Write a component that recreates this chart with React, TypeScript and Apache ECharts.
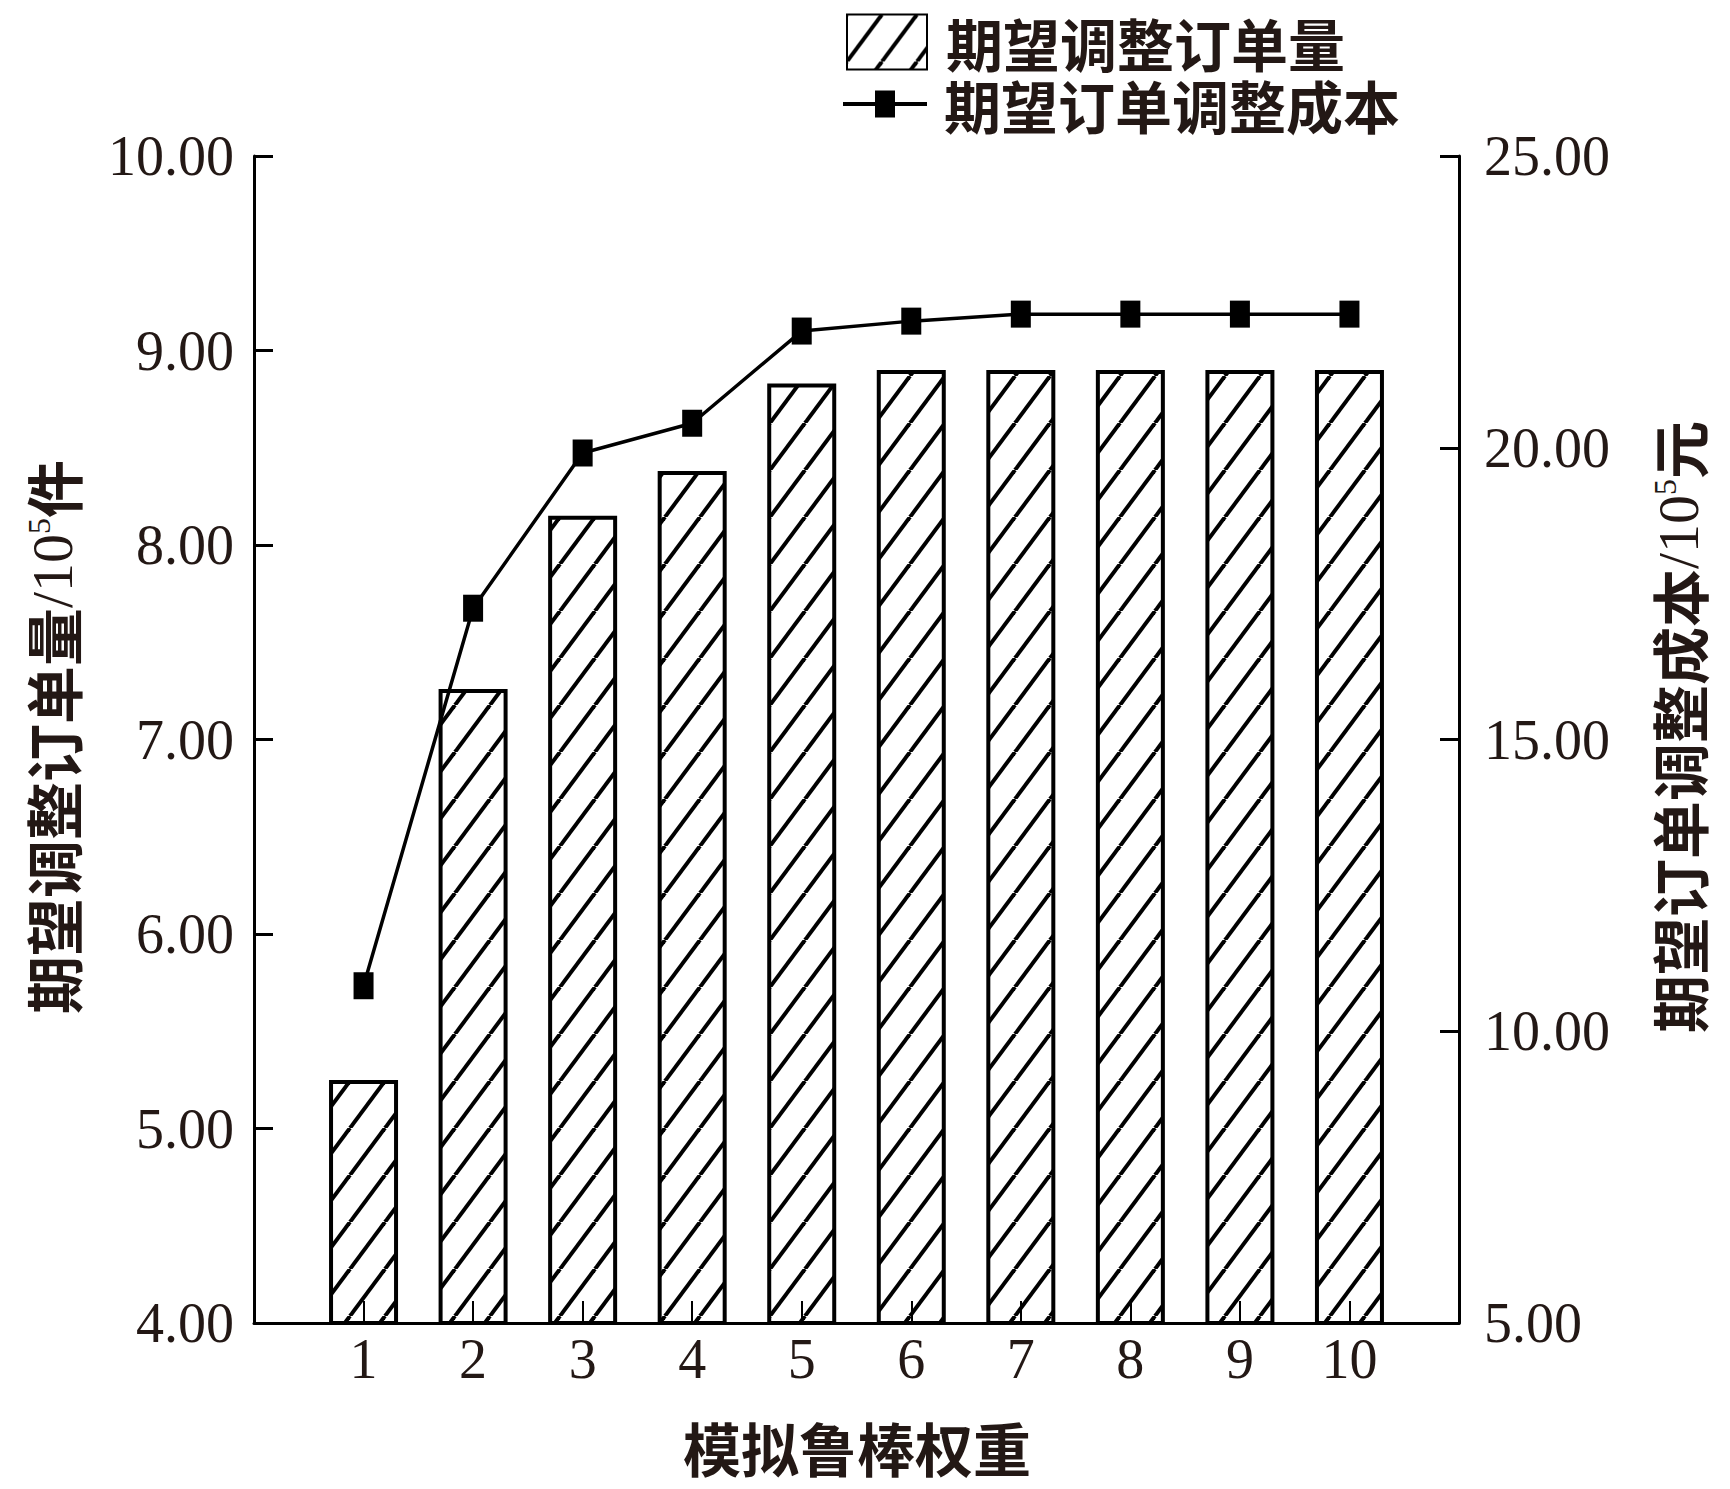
import React, { useEffect, useRef } from 'react';
import * as echarts from 'echarts';

// ---- data ----
const categories = [1, 2, 3, 4, 5, 6, 7, 8, 9, 10];
const orderQty = [5.25, 7.26, 8.15, 8.38, 8.83, 8.9, 8.9, 8.9, 8.9, 8.9];
const adjustCost = [10.78, 17.25, 19.91, 20.42, 22.0, 22.17, 22.29, 22.29, 22.29, 22.29];
const leftAxis = { min: 4, max: 10, interval: 1 };
const rightAxis = { min: 5, max: 25, interval: 5 };
const xAxisRange = { min: 0, max: 11, interval: 1 };
const barName = '期望调整订单量';
const lineName = '期望订单调整成本';
const xName = '模拟鲁棒权重';

const TEXT = '#231815';
const CJK = "'Noto Sans CJK SC'";
const SERIF = "'Liberation Serif', 'Times New Roman', serif";

function makeHatch(): HTMLCanvasElement {
  const W = 35, H = 47;
  const c = document.createElement('canvas');
  c.width = W;
  c.height = H;
  const ctx = c.getContext('2d')!;
  ctx.strokeStyle = '#000';
  ctx.lineWidth = 4;
  for (const off of [-W, 0, W]) {
    ctx.beginPath();
    ctx.moveTo(off, H);
    ctx.lineTo(off + W, 0);
    ctx.stroke();
  }
  return c;
}

export default function App() {
  const ref = useRef<HTMLDivElement>(null);
  useEffect(() => {
    if (!ref.current) return;
    const chart = echarts.init(ref.current, null, { renderer: 'svg' });
    const hatch = { image: makeHatch(), repeat: 'repeat' } as any;

    const labelStyle = { fontFamily: SERIF, fontSize: 56, color: TEXT };
    const richName = {
      a: { fontFamily: CJK, fontSize: 58, fontWeight: 'bold', fill: TEXT },
      b: { fontFamily: SERIF, fontSize: 58, fill: TEXT },
      c: { fontFamily: SERIF, fontSize: 32, fill: TEXT, verticalAlign: 'top' },
    };
    const legendText = {
      fontFamily: CJK,
      fontSize: 57,
      fontWeight: 'bold',
      color: TEXT,
      lineHeight: 58,
    };

    chart.setOption({
      animation: false,
      backgroundColor: '#fff',
      grid: { left: 254, right: 271, top: 156, bottom: 166, containLabel: false },
      legend: [
        {
          data: [{ name: barName, icon: 'rect' }],
          left: 841,
          top: 8,
          itemWidth: 80,
          itemHeight: 55,
          selectedMode: false,
          textStyle: { ...legendText, padding: [0, 0, 0, 14] },
        },
        {
          data: [{ name: lineName, icon: 'path://M0,11.5L84,11.5L84,15.5L0,15.5Z M32,0L52,0L52,27L32,27Z' }],
          left: 838,
          top: 70,
          itemWidth: 84,
          itemHeight: 27,
          selectedMode: false,
          textStyle: { ...legendText, padding: [0, 0, 0, 12] },
        },
      ],
      xAxis: {
        type: 'value',
        min: xAxisRange.min,
        max: xAxisRange.max,
        interval: xAxisRange.interval,
        axisLine: { show: true, onZero: false, lineStyle: { color: '#000', width: 3 } },
        axisTick: { show: true, inside: true, length: 22, lineStyle: { color: '#000', width: 2 } },
        axisLabel: {
          ...labelStyle,
          margin: 8,
          formatter: (v: number) => (categories.includes(v) ? String(v) : ''),
        },
        splitLine: { show: false },
      },
      yAxis: [
        {
          type: 'value',
          position: 'left',
          min: leftAxis.min,
          max: leftAxis.max,
          interval: leftAxis.interval,
          axisLine: { show: true, onZero: false, lineStyle: { color: '#000', width: 3 } },
          axisTick: { show: true, inside: true, length: 19, lineStyle: { color: '#000', width: 3 } },
          axisLabel: { ...labelStyle, margin: 20, formatter: (v: number) => v.toFixed(2) },
          splitLine: { show: false },
        },
        {
          type: 'value',
          position: 'right',
          min: rightAxis.min,
          max: rightAxis.max,
          interval: rightAxis.interval,
          axisLine: { show: true, onZero: false, lineStyle: { color: '#000', width: 3 } },
          axisTick: { show: true, inside: true, length: 19, lineStyle: { color: '#000', width: 3 } },
          axisLabel: { ...labelStyle, margin: 25, formatter: (v: number) => v.toFixed(2) },
          splitLine: { show: false },
        },
      ],
      series: [
        {
          name: barName,
          type: 'bar',
          xAxisIndex: 0,
          yAxisIndex: 0,
          barWidth: 69,
          data: orderQty.map((v, i) => [categories[i], v]),
          itemStyle: { color: hatch, borderColor: '#000', borderWidth: 4 },
          z: 2,
        },
        {
          name: lineName,
          type: 'line',
          xAxisIndex: 0,
          yAxisIndex: 1,
          data: adjustCost.map((v, i) => [categories[i], v]),
          symbol: 'rect',
          symbolSize: [20, 27],
          lineStyle: { color: '#000', width: 3.5 },
          itemStyle: { color: '#000' },
          z: 3,
        },
      ],
      graphic: [
        {
          type: 'text',
          x: 52,
          y: 737,
          rotation: Math.PI / 2,
          style: {
            text: '{a|期望调整订单量}{b|/10}{c|5}{a|件}',
            rich: richName,
            align: 'center',
            verticalAlign: 'middle',
          },
        },
        {
          type: 'text',
          x: 1678,
          y: 727,
          rotation: Math.PI / 2,
          style: {
            text: '{a|期望订单调整成本}{b|/10}{c|5}{a|元}',
            rich: richName,
            align: 'center',
            verticalAlign: 'middle',
          },
        },
        {
          type: 'text',
          x: 857,
          y: 1447,
          style: {
            text: xName,
            font: `bold 58px ${CJK}`,
            lineHeight: 60,
            fill: TEXT,
            align: 'center',
            verticalAlign: 'middle',
          },
        },
      ],
    });
    return () => chart.dispose();
  }, []);
  return (
    <div
      ref={ref}
      style={{ position: 'absolute', left: 0, top: 0, width: 1730, height: 1489 }}
    />
  );
}
